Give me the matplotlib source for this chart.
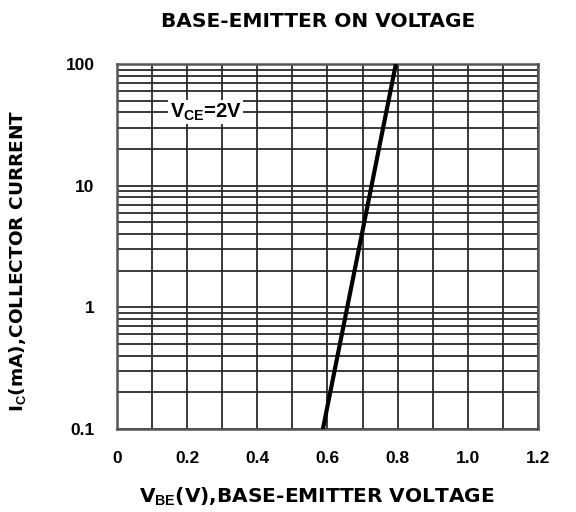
import matplotlib
matplotlib.use('Agg')
import matplotlib.pyplot as plt
import numpy as np
from matplotlib.ticker import FixedLocator, LogLocator, NullFormatter

plt.rcParams['font.family'] = ['Liberation Sans', 'DejaVu Sans']
plt.rcParams['font.weight'] = 'bold'
plt.rcParams['mathtext.fontset'] = 'custom'
plt.rcParams['mathtext.rm'] = 'Liberation Sans:bold'
plt.rcParams['mathtext.bf'] = 'Liberation Sans:bold'

# data
vbe = [0.587, 0.795]
ic = [0.1, 100]

xticks = [0, 0.2, 0.4, 0.6, 0.8, 1.0, 1.2]
xtick_labels = ['0', '0.2', '0.4', '0.6', '0.8', '1.0', '1.2']
yticks = [0.1, 1, 10, 100]
ytick_labels = ['0.1', '1', '10', '100']

fig = plt.figure(figsize=(5.76, 5.12), dpi=100)
ax = fig.add_axes([0.203, 0.162, 0.731, 0.713])

ax.plot(vbe, ic, color='black', lw=3, solid_capstyle='butt', zorder=3)

ax.set_yscale('log')
ax.set_xlim(0, 1.2)
ax.set_ylim(0.1, 100)

ax.xaxis.set_major_locator(FixedLocator(xticks))
ax.set_xticklabels(xtick_labels)
ax.xaxis.set_minor_locator(FixedLocator(np.arange(0.1, 1.2, 0.2)))
ax.yaxis.set_major_locator(FixedLocator(yticks))
ax.set_yticklabels(ytick_labels)
ax.yaxis.set_minor_locator(LogLocator(base=10, subs=np.arange(2, 10)))
ax.yaxis.set_minor_formatter(NullFormatter())

ax.grid(True, which='both', color='#2a2a2a', lw=1.3)
ax.tick_params(which='both', length=0)
ax.tick_params(axis='x', pad=16, labelsize=12.5)
ax.tick_params(axis='y', pad=16, labelsize=12.5)
for s in ax.spines.values():
    s.set_color('#555555')
    s.set_linewidth(1.8)

ax.text(0.15, 40, 'V$_{\\rm CE}$=2V', fontsize=14.5, fontweight='bold',
        ha='left', va='center', zorder=4,
        bbox=dict(facecolor='white', edgecolor='none', pad=1))

big = ['DejaVu Sans']
fig.text(0.552, 0.958, 'BASE-EMITTER ON VOLTAGE', ha='center', va='center',
         fontsize=14.5, fontweight='bold', family=big)
fig.text(0.55, 0.029, 'V$_{\\rm BE}$(V),BASE-EMITTER VOLTAGE', ha='center',
         va='center', fontsize=14.5, fontweight='bold', family=big)
fig.text(0.031, 0.49, 'I$_{\\rm C}$(mA),COLLECTOR CURRENT', ha='center',
         va='center', rotation=90, fontsize=13.3, fontweight='bold', family=big)

fig.savefig('out.png', dpi=100)
